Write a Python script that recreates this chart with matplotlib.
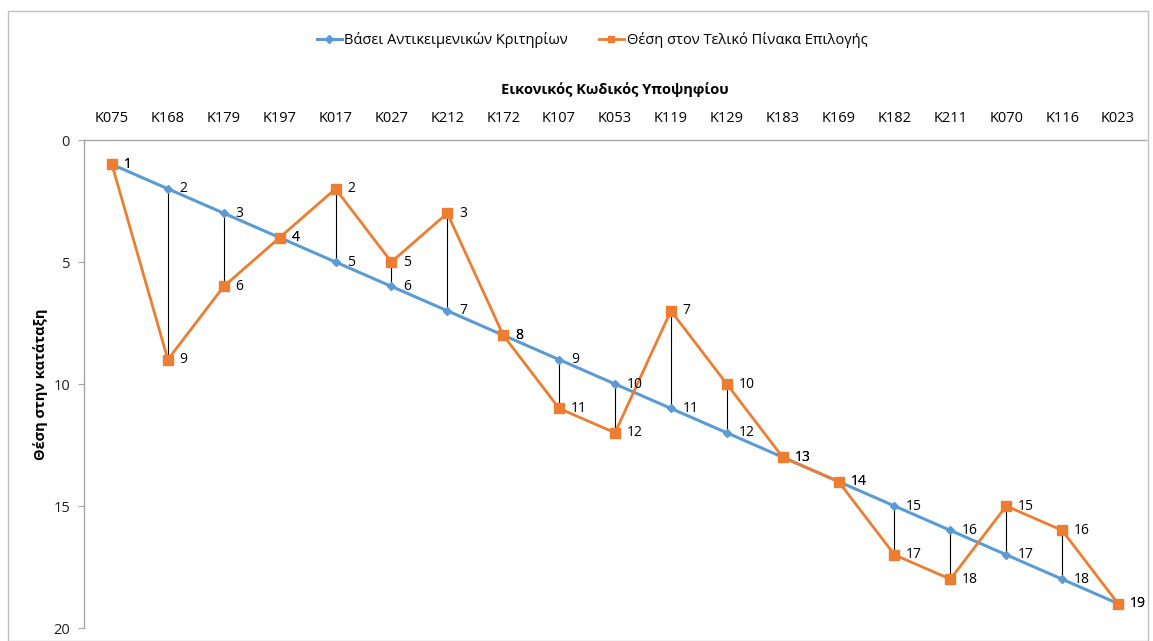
import matplotlib
matplotlib.use("Agg")
import matplotlib.pyplot as plt
from matplotlib.patches import Rectangle
from matplotlib.lines import Line2D

plt.rcParams['font.family'] = ['Open Sans', 'DejaVu Sans']

codes = ["K075", "K168", "K179", "K197", "K017", "K027", "K212", "K172", "K107", "K053",
         "K119", "K129", "K183", "K169", "K182", "K211", "K070", "K116", "K023"]
objective_rank = [1, 2, 3, 4, 5, 6, 7, 8, 9, 10, 11, 12, 13, 14, 15, 16, 17, 18, 19]
final_rank = [1, 9, 6, 4, 2, 5, 3, 8, 11, 12, 7, 10, 13, 14, 17, 18, 15, 16, 19]

series_names = ["Βάσει Αντικειμενικών Κριτηρίων", "Θέση στον Τελικό Πίνακα Επιλογής"]
x_title = "Εικονικός Κωδικός Υποψηφίου"
y_title = "Θέση στην κατάταξη"
y_ticks = [0, 5, 10, 15, 20]

blue = "#5B9BD5"
orange = "#ED7D31"

fig = plt.figure(figsize=(11.53, 6.41), dpi=100)
fig.patches.append(Rectangle((8/1153, 0), 1140/1153, 1 - 11/641, transform=fig.transFigure,
                             fill=False, edgecolor="#BFBFBF", linewidth=1.0))

ax = fig.add_axes([84/1153, 1 - 628/641, (1146-84)/1153, (628-140)/641])

x = list(range(len(codes)))

# drop lines
ax.vlines(x, objective_rank, final_rank, colors="black", linewidth=0.8, zorder=2)

ax.plot(x, objective_rank, color=blue, linewidth=2.2, marker="D", markersize=4,
        markerfacecolor=blue, markeredgecolor=blue, zorder=3, label=series_names[0])
ax.plot(x, final_rank, color=orange, linewidth=2.0, marker="s", markersize=6.5,
        markerfacecolor=orange, markeredgecolor=orange, zorder=4, label=series_names[1])

for xi, v in zip(x, objective_rank):
    ax.annotate(str(v), (xi, v), xytext=(8.5, 0), textcoords="offset points",
                ha="left", va="center", fontsize=10, color="#000000", zorder=5)
for xi, v in zip(x, final_rank):
    ax.annotate(str(v), (xi, v), xytext=(8.5, 0), textcoords="offset points",
                ha="left", va="center", fontsize=10, color="#000000", zorder=5)

ax.set_xlim(-0.5, len(codes) - 0.5)
ax.set_ylim(20, 0)
ax.set_yticks(y_ticks)
ax.set_yticklabels([str(t) for t in y_ticks], fontsize=10.5, color="#202020")
ax.tick_params(axis="y", length=4, color="#A6A6A6", pad=6)

ax.xaxis.tick_top()
ax.xaxis.set_label_position("top")
ax.set_xticks(x)
ax.set_xticklabels(codes, fontsize=10.5, color="#000000")
ax.tick_params(axis="x", length=0, pad=10)
ax.set_xlabel(x_title, fontsize=10.5, fontweight="bold", labelpad=12)
ax.set_ylabel(y_title, fontsize=10.5, fontweight="bold", labelpad=4)

for side in ["right", "bottom"]:
    ax.spines[side].set_visible(False)
for side in ["left", "top"]:
    ax.spines[side].set_color("#A6A6A6")
    ax.spines[side].set_linewidth(1.0)

handles = [
    Line2D([0], [0], color=blue, linewidth=2.2, marker="D", markersize=4),
    Line2D([0], [0], color=orange, linewidth=2.0, marker="s", markersize=5),
]
fig.legend(handles, series_names, loc="center", bbox_to_anchor=(592/1153, 1 - 40/641),
           ncol=2, frameon=False, fontsize=10.5, handlelength=1.7, columnspacing=2.1,
           handletextpad=0.2)

fig.savefig("out.png", dpi=100)
